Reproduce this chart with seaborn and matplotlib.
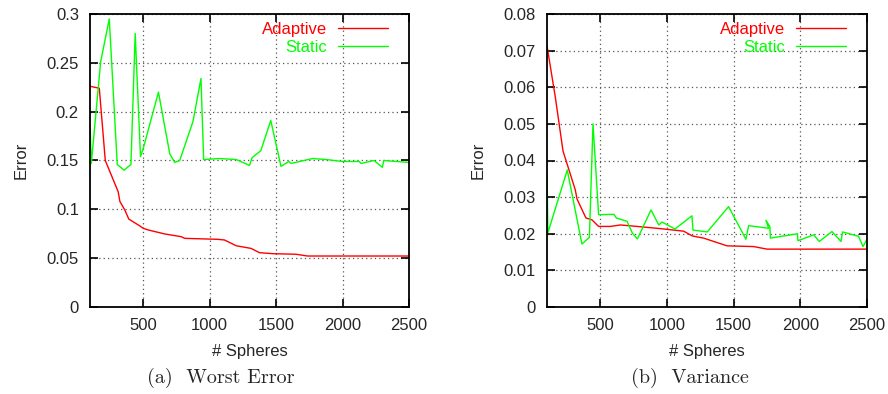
import numpy as np
import pandas as pd
import seaborn as sns
import matplotlib.pyplot as plt

# Worst error (a)
worst_adaptive_x = [100, 170, 215, 312, 325, 362, 392, 475, 500, 537, 662, 787, 812, 1062, 1112,
                    1200, 1312, 1375, 1475, 1650, 1737, 2000, 2250, 2500]
worst_adaptive_y = [0.226, 0.224, 0.150, 0.118, 0.108, 0.0993, 0.0900, 0.0830, 0.0806, 0.0789, 0.0748,
                    0.0720, 0.0703, 0.0693, 0.0686, 0.0627, 0.0600, 0.0556, 0.0546, 0.0540, 0.0522,
                    0.0522, 0.0522, 0.0522]
worst_static_x = [100, 110, 180, 245, 305, 357, 408, 440, 480, 500, 615, 700, 737, 775, 875, 935, 955,
                  1075, 1200, 1300, 1320, 1385, 1460, 1537, 1595, 1612, 1775, 1875, 2000, 2125, 2140,
                  2237, 2300, 2310, 2500]
worst_static_y = [0.187, 0.147, 0.251, 0.295, 0.146, 0.140, 0.146, 0.280, 0.154, 0.162, 0.220, 0.157,
                  0.148, 0.150, 0.190, 0.234, 0.151, 0.152, 0.151, 0.145, 0.153, 0.160, 0.191, 0.144,
                  0.149, 0.147, 0.152, 0.151, 0.149, 0.149, 0.147, 0.150, 0.143, 0.150, 0.148]

# Variance (b)
var_adaptive_x = [100, 162, 220, 312, 325, 392, 437, 487, 575, 650, 775, 950, 1125, 1190, 1275, 1450,
                  1650, 1750, 2000, 2250, 2500]
var_adaptive_y = [0.0713, 0.0574, 0.0426, 0.0320, 0.0295, 0.0243, 0.0238, 0.0220, 0.0220, 0.0224,
                  0.0220, 0.0214, 0.0207, 0.0194, 0.0188, 0.0167, 0.0165, 0.0158, 0.0158, 0.0158, 0.0158]
var_static_x = [100, 107, 252, 362, 418, 445, 487, 602, 620, 700, 740, 778, 880, 938, 962, 1060, 1187,
                1195, 1302, 1462, 1592, 1612, 1762, 1742, 1772, 1775, 1978, 1982, 2100, 2142, 2237,
                2305, 2317, 2437, 2470, 2500]
var_static_y = [0.0367, 0.0203, 0.0374, 0.0172, 0.0190, 0.0500, 0.0252, 0.0253, 0.0243, 0.0234,
                0.0202, 0.0186, 0.0265, 0.0224, 0.0232, 0.0213, 0.0249, 0.0210, 0.0205, 0.0274,
                0.0185, 0.0222, 0.0215, 0.0237, 0.0219, 0.0188, 0.0200, 0.0181, 0.0197, 0.0179,
                0.0206, 0.0179, 0.0205, 0.0193, 0.0165, 0.0185]

series_names = ['Adaptive', 'Static']
series_colors = {'Adaptive': '#ff0000', 'Static': '#00ff00'}

sns.set_style('ticks')
plt.rcParams['font.family'] = ['Liberation Sans', 'DejaVu Sans']
plt.rcParams['font.size'] = 12

fig = plt.figure(figsize=(8.88, 3.94), dpi=100)
ax1 = fig.add_axes([90 / 888, 87 / 394, 319 / 888, 293 / 394])
ax2 = fig.add_axes([547 / 888, 87 / 394, 320 / 888, 293 / 394])


def make_df(ax_, ay_, sx_, sy_):
    a = pd.DataFrame({'x': ax_, 'y': ay_, 'series': 'Adaptive'})
    s = pd.DataFrame({'x': sx_, 'y': sy_, 'series': 'Static'})
    return pd.concat([a, s], ignore_index=True)


panels = [
    (ax1, make_df(worst_adaptive_x, worst_adaptive_y, worst_static_x, worst_static_y),
     (0, 0.3), np.arange(0, 0.31, 0.05), ['0', '0.05', '0.1', '0.15', '0.2', '0.25', '0.3'],
     '(a)  Worst Error', 221 / 888),
    (ax2, make_df(var_adaptive_x, var_adaptive_y, var_static_x, var_static_y),
     (0, 0.08), np.arange(0, 0.081, 0.01), ['0', '0.01', '0.02', '0.03', '0.04', '0.05', '0.06', '0.07', '0.08'],
     '(b)  Variance', 690 / 888),
]

for ax, df, ylim, yticks, ylabels, caption, cap_x in panels:
    sns.lineplot(data=df, x='x', y='y', hue='series', hue_order=series_names, palette=series_colors,
                 sort=False, estimator=None, linewidth=1.0, ax=ax)
    ax.set_xlim(100, 2500)
    ax.set_ylim(*ylim)
    ax.set_xticks([500, 1000, 1500, 2000, 2500])
    ax.set_yticks(yticks)
    ax.set_yticklabels(ylabels)
    ax.grid(True, color='#555555', linestyle=(0, (1, 2.5)), linewidth=0.9)
    ax.tick_params(direction='in', length=6, width=1.2, top=True, right=True, labelsize=12,
                   color='black', pad=8)
    for sp in ax.spines.values():
        sp.set_linewidth(1.3)
        sp.set_color('black')
    ax.set_xlabel('# Spheres', fontsize=12, labelpad=8)
    ax.set_ylabel('Error', fontsize=12, labelpad=13)
    leg = ax.legend(loc='upper right', bbox_to_anchor=(1 - 14 / 319, 1 - 1.5 / 293), borderaxespad=0,
                    frameon=False, markerfirst=False, labelcolor='linecolor',
                    handlelength=3.0, handletextpad=0.7, labelspacing=0.15, fontsize=12)
    for line in leg.get_lines():
        line.set_linewidth(1.0)
    # subfigure caption, LaTeX style
    fig.text(cap_x, 1 - 378 / 394, caption, ha='center', va='center',
             family=['cmr10', 'DejaVu Serif'], fontsize=14.5)

plt.savefig('out.png', dpi=100)
